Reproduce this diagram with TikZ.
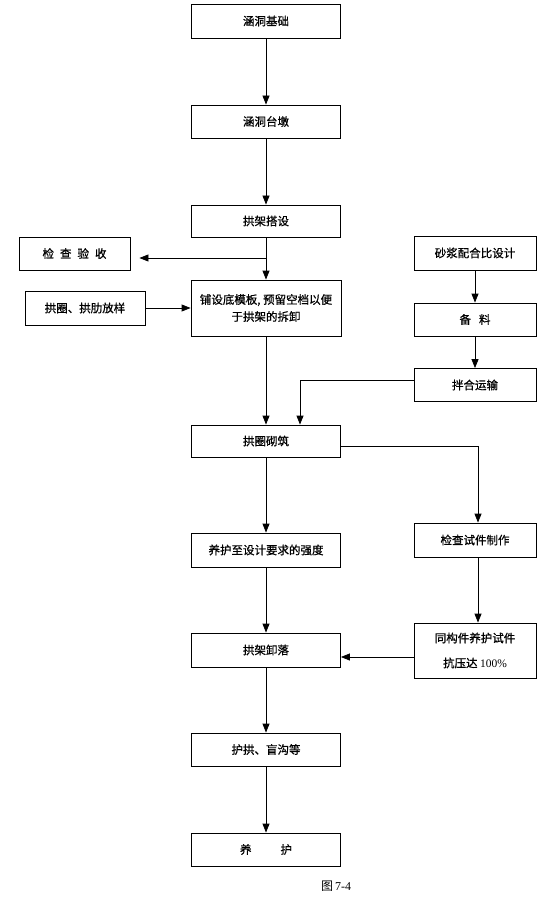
\documentclass[tikz,border=0pt]{standalone}
\usepackage{fontspec}
\setmainfont{Liberation Serif}
\newfontfamily\cjk[FakeBold=0.8]{Noto Sans CJK SC}
\newfontfamily\cjkthin{Noto Sans CJK SC}
\usetikzlibrary{arrows.meta}
\begin{document}
\begin{tikzpicture}[x=1pt,y=-1pt,
  box/.style={draw,line width=0.8pt,inner sep=0pt,align=center,font=\cjk\fontsize{11.5}{17}\selectfont},
  conn/.style={line width=0.8pt,-{Triangle[length=9pt,width=7pt]}},
  plain/.style={line width=0.8pt}]
\useasboundingbox (0,0) rectangle (553,909);
% main column
\node[box,minimum width=149pt,minimum height=34pt] (b1) at (266,21) {涵洞基础};
\node[box,minimum width=149pt,minimum height=33pt] (b2) at (266,121.5) {涵洞台墩};
\node[box,minimum width=149pt,minimum height=32pt] (b3) at (266,221) {拱架搭设};
\node[box,minimum width=111pt,minimum height=33pt] (chk) at (74.5,253.5) {检\hspace{6pt}查\hspace{6pt}验\hspace{6pt}收};
\node[box,minimum width=150pt,minimum height=56pt] (b4) at (266,308) {铺设底模板, 预留空档以便\\于拱架的拆卸};
\node[box,minimum width=120pt,minimum height=34pt] (fy) at (85,308) {拱圈、拱肋放样};
\node[box,minimum width=122pt,minimum height=34pt] (r1) at (475,253) {砂浆配合比设计};
\node[box,minimum width=122pt,minimum height=33pt] (r2) at (475,319.5) {备\hspace{8pt}料};
\node[box,minimum width=122pt,minimum height=33pt] (r3) at (475,385) {拌合运输};
\node[box,minimum width=149pt,minimum height=32pt] (b5) at (266,441) {拱圈砌筑};
\node[box,minimum width=149pt,minimum height=34pt] (b6) at (266,550) {养护至设计要求的强度};
\node[box,minimum width=122pt,minimum height=34pt] (r4) at (475,540) {检查试件制作};
\node[box,minimum width=122pt,minimum height=55pt] (r5) at (475,650.5) {同构件养护试件\\[8pt]抗压达 {\fontspec{Liberation Serif}100\%}};
\node[box,minimum width=149pt,minimum height=34pt] (b7) at (266,650) {拱架卸落};
\node[box,minimum width=149pt,minimum height=33pt] (b8) at (266,749.5) {护拱、盲沟等};
\node[box,minimum width=149pt,minimum height=33pt] (b9) at (266,849.5) {养\hspace{29pt}护};
\node[inner sep=0pt,font=\fontsize{12}{12}\selectfont] (cap) at (336,886) {{\cjkthin 图}\,7-4};
% connectors
\draw[conn] (b1) -- (b2);
\draw[conn] (b2) -- (b3);
\draw[conn] (b3) -- (b4);
\coordinate (j1) at (266,258);
\draw[conn] (j1) -- ([xshift=9pt]chk.east |- j1);
\draw[conn] (fy) -- (b4);
\draw[conn] (b4) -- (b5);
\draw[conn] (r1) -- (r2);
\draw[conn] (r2) -- (r3);
\coordinate (j2) at (300,380);
\draw[conn] (r3.west |- j2) -- (j2) -- (j2 |- b5.north);
\coordinate (j3) at (478,446);
\draw[conn] (b5.east |- j3) -- (j3) -- (j3 |- r4.north);
\draw[conn] (b5) -- (b6);
\draw[conn] (b6) -- (b7);
\draw[conn] (r4.south -| j3) -- (j3 |- r5.north);
\coordinate (j4) at (400,657);
\draw[conn] (r5.west |- j4) -- (b7.east |- j4);
\draw[conn] (b7) -- (b8);
\draw[conn] (b8) -- (b9);
\end{tikzpicture}
\end{document}
